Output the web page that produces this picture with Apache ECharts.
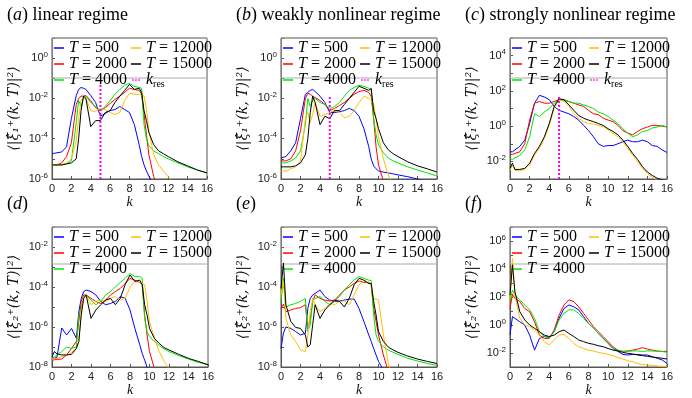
<!DOCTYPE html>
<html>
<head>
<meta charset="utf-8">
<script src="https://cdn.jsdelivr.net/npm/echarts@6/dist/echarts.min.js"></script>
<style>
html, body { margin: 0; background: #fff; }
#chart { width: 692px; height: 398px; }
</style>
</head>
<body>
<div id="chart"></div>
<script>
// wavenumber grids
const kFine = [0,0.25,0.5,1,1.5,2,2.5,2.75,3,3.25,3.5,4,4.5,5,5.5,6,6.5,7,7.5,8,8.5,9,9.25,9.5,9.75,10,10.5,11,11.5,12,13,14,15,16]
const kWide = [0,0.25,0.5,1,1.5,2,2.5,3,3.5,4,4.5,5,5.5,6,6.5,7,7.5,8,8.5,9,9.5,10,10.5,11,11.5,12,12.5,13,13.5,14,14.5,15,15.5,16]
const tLabels = ['T = 500', 'T = 2000', 'T = 4000', 'T = 12000', 'T = 15000']
const kRes = 5

// (a) linear regime
const a500 = [1.8e-5,1.9e-5,2.0e-5,2.2e-5,4.0e-5,1.0e-3,1.4e-2,2.8e-2,3.5e-2,3.2e-2,2.8e-2,1.4e-2,6.3e-3,1.3e-3,1.8e-3,2.5e-3,2.8e-3,4.0e-3,2.8e-3,2.0e-3,5.0e-4,5.0e-5,1.3e-5,5.0e-6,2.5e-6,1.4e-6,5e-7,1.6e-7,1e-7,5e-8,1.6e-8,5e-9,1.6e-9,5e-10]
const a2000 = [5.0e-6,5.0e-6,5.0e-6,6.3e-6,1.3e-5,6.3e-5,5.0e-3,1.0e-2,1.3e-2,1.3e-2,1.4e-2,7.9e-3,3.5e-3,2.5e-3,3.5e-3,5.6e-3,8.9e-3,1.3e-2,2.0e-2,3.2e-2,2.8e-2,2.5e-2,1.6e-2,1.6e-3,1.6e-4,1.6e-5,1.3e-6,3.2e-7,1e-7,3.2e-8,1e-8,3.2e-9,1e-9,3.2e-10]
const a4000 = [5.0e-6,5.0e-6,5.0e-6,5.0e-6,5.6e-6,7.9e-6,6.3e-4,7.9e-3,4.0e-3,1.1e-2,1.3e-2,6.3e-3,4.0e-3,2.5e-3,4.0e-3,7.9e-3,1.6e-2,2.8e-2,4.5e-2,5.6e-2,4.0e-2,3.5e-2,3.2e-2,5.0e-4,1.0e-4,4.5e-5,2.5e-5,1.8e-5,1.3e-5,1.0e-5,6.3e-6,4.0e-6,2.8e-6,2.0e-6]
const a12000 = [5.0e-6,5.0e-6,5.0e-6,5.0e-6,6.3e-6,1.0e-5,7.9e-5,1.0e-3,7.9e-3,1.1e-2,1.0e-2,2.5e-3,2.2e-3,3.2e-3,2.8e-3,2.0e-3,1.6e-3,2.0e-3,7.9e-3,1.8e-2,1.6e-2,1.6e-2,1.4e-2,1.3e-2,3.2e-3,2.5e-4,1.6e-5,5.0e-6,2.5e-6,1.3e-6,3.2e-7,1e-7,3.2e-8,1e-8]
const a15000 = [5.0e-6,5.0e-6,5.0e-6,5.0e-6,5.6e-6,6.3e-6,1.0e-5,1.0e-4,2.5e-3,1.3e-2,1.0e-2,4.0e-4,7.9e-4,7.9e-4,2.0e-3,2.5e-3,6.3e-3,1.3e-2,2.5e-2,5.0e-2,2.8e-2,3.2e-2,2.0e-2,2.5e-3,7.9e-4,2.0e-4,5.0e-5,2.5e-5,1.8e-5,1.3e-5,7.1e-6,4.5e-6,2.8e-6,2.0e-6]

// (b) weakly nonlinear regime
const b500 = [1.1e-5,1.2e-5,1.3e-5,2.5e-5,6.3e-5,1.0e-3,1.6e-2,2.0e-2,2.5e-2,2.8e-2,2.2e-2,1.3e-2,6.3e-3,2.0e-3,2.0e-3,2.2e-3,2.5e-3,3.2e-3,2.5e-3,1.3e-3,3.2e-4,4.0e-5,1.0e-5,4.5e-6,3.2e-6,2.5e-6,2.2e-6,2.0e-6,1.8e-6,1.6e-6,1.3e-6,1.0e-6,7.9e-7,6.3e-7]
const b2000 = [7.9e-6,7.9e-6,7.9e-6,1.0e-5,2.5e-5,2.5e-4,1.0e-2,1.8e-2,1.6e-2,1.3e-2,1.1e-2,7.9e-3,5.0e-3,2.5e-3,3.2e-3,4.5e-3,6.3e-3,1.0e-2,1.6e-2,2.2e-2,2.5e-2,2.0e-2,1.3e-2,1.0e-3,4.0e-5,5.0e-6,7.9e-7,2.5e-7,1e-7,3.2e-8,1e-8,3.2e-9,1e-9,3.2e-10]
const b4000 = [6.3e-6,6.3e-6,6.3e-6,7.9e-6,1.1e-5,2.5e-5,5.0e-4,1.0e-2,4.0e-3,7.9e-3,1.0e-2,6.3e-3,5.0e-3,3.2e-3,4.0e-3,6.3e-3,1.3e-2,2.5e-2,3.5e-2,4.5e-2,4.0e-2,3.2e-2,2.5e-2,1.0e-3,1.6e-4,5.0e-5,2.0e-5,1.1e-5,7.9e-6,6.3e-6,4.0e-6,2.8e-6,2.0e-6,1.4e-6]
const b12000 = [2.5e-6,2.5e-6,2.5e-6,3.2e-6,4.0e-6,7.9e-6,1.0e-3,2.0e-3,6.3e-4,1.6e-3,6.3e-3,1.3e-3,1.6e-3,2.0e-3,2.5e-3,2.0e-3,1.1e-3,1.3e-3,2.5e-3,6.3e-3,1.3e-2,1.0e-2,7.9e-3,5.0e-3,1.0e-3,1.3e-4,1.0e-5,1.6e-6,5.0e-7,1e-7,3.2e-8,1e-8,3.2e-9,1e-9]
const b15000 = [4.0e-6,4.0e-6,4.0e-6,4.0e-6,4.5e-6,6.3e-6,1.6e-5,1.0e-4,2.0e-3,1.3e-2,6.3e-3,5.0e-4,1.3e-3,1.0e-3,2.5e-3,2.5e-3,5.0e-3,1.0e-2,2.0e-2,4.0e-2,3.2e-2,2.5e-2,3.2e-2,2.5e-3,1.0e-3,3.2e-4,6.3e-5,2.8e-5,1.8e-5,1.3e-5,7.1e-6,4.5e-6,3.2e-6,2.2e-6]

// (c) strongly nonlinear regime
const c500 = [3.5e-2,3.5e-2,4.5e-2,7.1e-2,0.16,1.4,20,56,45,32,13,7.9,6.3,5.0,3.5,2.2,1.1,0.56,0.25,0.1,7.1e-2,7.9e-2,7.9e-2,0.1,0.13,0.16,0.13,0.13,0.16,0.13,7.9e-2,7.1e-2,4.5e-2,3.2e-2]
const c2000 = [2.5e-2,2.5e-2,2.8e-2,3.5e-2,0.1,2.2,20,25,20,20,25,32,32,25,20,16,13,7.9,5.0,4.5,2.8,2.2,1.8,1.1,0.56,0.4,0.32,0.5,0.71,0.89,1.1,1.1,1.0,0.89]
const c4000 = [1.4e-2,1.3e-2,1.6e-2,2.2e-2,4.5e-2,0.25,5.0,3.5,6.3,10,20,32,28,25,20,20,16,13,10,6.3,5.0,3.5,2.2,1.4,0.71,0.4,0.25,0.32,0.5,0.56,0.79,0.89,1.1,0.89]
const c12000 = [3.2e-3,6.2e-3,3.0e-3,3.0e-3,3.5e-3,6.2e-3,2.3e-2,5.5e-2,0.2,1.1,10,33,25,13,5.2,2.8,1.8,1.4,1.3,1.1,0.93,0.6,0.39,0.25,0.13,5.5e-2,2.3e-2,9.5e-3,4.0e-3,2.1e-3,1.3e-3,8.7e-4,7.1e-4,5.6e-4]
const c15000 = [4.0e-3,7.9e-3,3.5e-3,3.5e-3,4.0e-3,7.9e-3,2.8e-2,7.1e-2,0.25,1.4,13,35,32,16,7.9,4.0,2.8,2.2,1.8,1.4,1.1,0.71,0.5,0.32,0.16,7.1e-2,2.8e-2,1.3e-2,5.0e-3,2.5e-3,1.6e-3,1.1e-3,8.9e-4,7.1e-4]

// (d)
const d500 = [2.7e-8,2.8e-8,3.0e-8,8.9e-7,4.0e-7,8.5e-7,2.7e-7,5.9e-6,2.7e-5,5.9e-5,7.1e-5,5.9e-5,4.0e-5,1.9e-5,1.3e-5,1.5e-5,1.9e-5,3.3e-5,2.7e-5,7.1e-6,8.5e-7,1.3e-7,4.8e-8,2.2e-8,1.0e-8,5e-9,1e-9,3e-10,1e-10,1e-10,1e-10,1e-10,1e-10,1e-10]
const d2000 = [2.2e-8,2.3e-8,2.4e-8,2.5e-8,4.0e-8,8.5e-8,1.9e-7,1.9e-6,1.9e-5,4.0e-5,4.0e-5,2.7e-5,1.9e-5,1.5e-5,2.2e-5,4.0e-5,5.9e-5,8.5e-5,1.5e-4,2.7e-4,2.2e-4,1.7e-4,1.3e-4,4.0e-6,4.0e-7,5.9e-8,8.5e-9,1e-9,3e-10,1e-10,1e-10,1e-10,1e-10,1e-10]
const d4000 = [2.5e-8,3.2e-8,4.0e-8,5.9e-8,1.0e-7,8.5e-8,1.0e-7,4.0e-6,8.5e-6,3.3e-5,4.0e-5,2.2e-5,1.3e-5,1.9e-5,4.0e-5,5.9e-5,1.0e-4,1.7e-4,2.7e-4,4.8e-4,3.3e-4,3.3e-4,2.7e-4,2.7e-6,5.9e-7,3.3e-7,1.9e-7,1.2e-7,7.9e-8,5.9e-8,3.7e-8,2.5e-8,1.7e-8,1.3e-8]
const d12000 = [2.5e-8,2.6e-8,2.7e-8,3.3e-8,4.0e-8,5.4e-8,8.5e-8,1.9e-7,5.9e-6,3.3e-5,4.0e-5,1.3e-5,1.9e-5,2.2e-5,1.9e-5,2.7e-5,3.3e-5,2.2e-5,2.7e-5,1.0e-4,1.9e-4,1.7e-4,1.5e-4,1.3e-4,1.9e-5,1.9e-6,2.7e-7,5.9e-8,1.9e-8,8.5e-9,1e-9,1e-10,1e-10,1e-10]
const d15000 = [3.3e-8,5.9e-8,4.5e-8,4.0e-8,4.0e-8,4.3e-8,8.5e-8,1.9e-7,4.0e-6,2.7e-5,4.0e-5,2.7e-6,7.1e-6,1.3e-5,2.2e-5,2.7e-5,1.3e-5,2.7e-5,1.3e-4,4.0e-4,1.9e-4,2.2e-4,1.3e-4,1.3e-5,4.0e-6,8.5e-7,2.7e-7,1.5e-7,9.3e-8,7.1e-8,4.3e-8,2.7e-8,1.9e-8,1.3e-8]

// (e)
const e500 = [8.5e-8,5.0e-7,1.0e-6,8.5e-7,5.9e-7,4.0e-7,4.8e-7,8.5e-6,2.7e-5,4.0e-5,4.8e-5,7.1e-5,3.3e-5,2.2e-5,1.9e-5,2.0e-5,2.2e-5,2.5e-5,2.5e-5,8.5e-6,1.9e-6,4.0e-7,1.9e-7,8.5e-8,4.0e-8,1.9e-8,7.1e-9,1e-9,1e-10,1e-10,1e-10,1e-10,1e-10,1e-10]
const e2000 = [8.5e-6,1.4e-5,5.9e-6,7.1e-6,8.5e-6,9.3e-6,1.3e-5,8.5e-7,2.7e-6,1.9e-5,4.0e-5,2.7e-5,2.2e-5,2.0e-5,2.2e-5,4.0e-5,7.1e-5,1.0e-4,1.5e-4,2.0e-4,1.7e-4,1.7e-4,1.3e-4,8.5e-6,1.9e-6,4.0e-7,4.0e-8,5.9e-9,1e-9,1e-10,1e-10,1e-10,1e-10,1e-10]
const e4000 = [1.9e-5,2.7e-4,1.0e-5,1.3e-5,1.5e-5,1.9e-5,2.7e-5,5.9e-7,1.3e-6,1.9e-5,2.7e-5,3.3e-5,1.9e-5,1.3e-5,1.9e-5,3.3e-5,7.1e-5,1.3e-4,2.2e-4,3.3e-4,2.7e-4,2.2e-4,2.1e-4,4.0e-6,4.0e-7,1.9e-7,1.0e-7,7.1e-8,5.4e-8,4.3e-8,2.7e-8,2.0e-8,1.5e-8,1.2e-8]
const e12000 = [4.0e-5,1.9e-4,2.7e-6,4.0e-7,1.9e-7,7.1e-8,5.9e-8,4.0e-7,5.9e-6,2.7e-5,1.3e-5,5.9e-6,8.5e-6,1.5e-5,1.3e-5,1.9e-5,2.0e-5,1.3e-5,4.0e-5,1.3e-4,2.0e-4,1.5e-4,1.3e-4,2.5e-5,2.5e-5,2.2e-5,4.0e-7,1.5e-8,3e-9,1e-9,1e-10,1e-10,1e-10,1e-10]
const e15000 = [8.5e-5,1.6e-3,1.3e-5,1.9e-6,9.5e-7,8.5e-7,4.0e-7,1.0e-7,1.3e-7,1.3e-6,1.3e-5,2.7e-6,7.1e-6,1.3e-5,2.2e-5,1.9e-5,1.0e-5,2.7e-5,1.3e-4,2.7e-4,2.2e-4,1.5e-4,1.5e-4,1.9e-5,4.0e-6,5.9e-7,1.9e-7,1.0e-7,7.1e-8,5.4e-8,3.5e-8,2.5e-8,1.9e-8,1.5e-8]

// (f)
const f500 = [0.2,4.0,3.0,1.7,1.0,0.19,1.6e-2,0.11,0.15,0.13,0.33,3.0,15,27,20,12,4.0,1.3,0.58,0.25,0.11,4.9e-2,2.1e-2,1.3e-2,7.9e-3,7.2e-3,7.9e-3,7.9e-3,7.2e-3,7.2e-3,5.5e-3,4.2e-3,3.2e-3,1.8e-3]
const f2000 = [15,155,79,47,15,8.9,1.7,0.19,0.11,0.11,0.44,5.1,27,62,47,20,6.8,2.3,0.76,0.33,0.15,6.5e-2,2.8e-2,1.6e-2,1.3e-2,1.4e-2,1.6e-2,1.9e-2,2.4e-2,1.9e-2,1.6e-2,1.4e-2,1.3e-2,1.3e-2]
const f4000 = [47,316,138,62,27,12,3.0,0.33,0.15,0.13,0.33,2.3,6.8,12,12,6.8,3.0,1.3,0.58,0.25,0.11,4.9e-2,2.1e-2,1.6e-2,1.3e-2,1.3e-2,1.4e-2,1.4e-2,1.3e-2,1.4e-2,1.4e-2,1.3e-2,1.3e-2,1.1e-2]
const f12000 = [79,6.0e4,138,3.0,1.0,0.76,0.44,0.19,6.5e-2,3.7e-2,8.5e-2,0.19,0.21,0.11,4.9e-2,2.8e-2,2.1e-2,1.6e-2,1.4e-2,1.1e-2,9.5e-3,7.9e-3,6.3e-3,4.7e-3,3.7e-3,2.8e-3,2.4e-3,1.8e-3,1.5e-3,1.4e-3,1.3e-3,1.2e-3,1.1e-3,1.0e-3]
const f15000 = [138,2.0e4,240,8.9,2.3,1.0,0.58,0.33,0.19,0.15,0.19,0.33,0.44,0.25,0.15,8.5e-2,6.5e-2,4.9e-2,4.2e-2,3.3e-2,2.8e-2,2.1e-2,1.6e-2,1.4e-2,1.1e-2,9.5e-3,8.5e-3,7.2e-3,6.5e-3,5.8e-3,5.1e-3,4.7e-3,4.2e-3,3.7e-3]

// top of the k_res marker in each upper panel
const kresTops = [5e-2, 1.2e-2, 50]

const colors = ['#0000ff', '#ff0000', '#00e600', '#ffbf00', '#000000']
const axisColor = '#555'
const serif = 'Liberation Serif'
const dotIcon = 'path://M0,0h2v2h-2zM4,0h2v2h-2zM8,0h2v2h-2z'

const panels = [
  { left: 52, top: 38, width: 155, height: 141, k: kFine, ys: [a500, a2000, a4000, a12000, a15000], min: 1e-6, max: 1e1, sub: '₁', title: '({i|a}) linear regime', kres: kresTops[0] },
  { left: 281, top: 38, width: 156, height: 141, k: kFine, ys: [b500, b2000, b4000, b12000, b15000], min: 1e-6, max: 1e1, sub: '₁', title: '({i|b}) weakly nonlinear regime', kres: kresTops[1] },
  { left: 510, top: 38, width: 157, height: 141, k: kWide, ys: [c500, c2000, c4000, c12000, c15000], min: 1e-3, max: 1e5, sub: '₁', title: '({i|c}) strongly nonlinear regime', kres: kresTops[2] },
  { left: 52, top: 227, width: 156, height: 140, k: kFine, ys: [d500, d2000, d4000, d12000, d15000], min: 1e-8, max: 1e-1, sub: '₂', title: '({i|d})' },
  { left: 281, top: 227, width: 156, height: 140, k: kFine, ys: [e500, e2000, e4000, e12000, e15000], min: 1e-8, max: 1e-1, sub: '₂', title: '({i|e})' },
  { left: 510, top: 227, width: 157, height: 140, k: kWide, ys: [f500, f2000, f4000, f12000, f15000], min: 1e-3, max: 1e7, sub: '₂', title: '({i|f})' },
]

function yTick(v) {
  const l = Math.log10(v)
  const e = Math.round(l)
  if (Math.abs(l - e) > 1e-6 || e % 2 !== 0) return ''
  return '10{s|' + e + '}'
}

function legendName(name) {
  if (name === 'k_res') return '{i|k}{r|res}'
  return name.replace('T', '{i|T}')
}

function legendItem(name) {
  return name === 'k_res' ? { name, icon: dotIcon } : { name, icon: 'rect' }
}

const legendText = {
  fontFamily: serif, fontSize: 16, color: '#000', lineHeight: 12.5,
  rich: {
    i: { fontFamily: serif, fontStyle: 'italic', fontSize: 16, lineHeight: 12.5 },
    r: { fontFamily: serif, fontSize: 10, padding: [9, 0, 0, 0] },
  },
}

const grid = [], xAxis = [], yAxis = [], series = [], legend = [], title = [], graphic = []

panels.forEach((p, i) => {
  grid.push({ left: p.left, top: p.top, width: p.width, height: p.height, show: true, borderColor: axisColor, borderWidth: 1, outerBoundsMode: 'none' })
  xAxis.push({
    type: 'value', gridIndex: i, min: 0, max: 16, interval: 2,
    name: 'k', nameLocation: 'middle', nameGap: 7,
    nameTextStyle: { fontFamily: serif, fontStyle: 'italic', fontSize: 14, color: '#111' },
    axisLine: { lineStyle: { color: axisColor } },
    axisTick: { inside: true, length: 3, lineStyle: { color: axisColor } },
    axisLabel: { fontFamily: 'Liberation Sans', fontSize: 11, color: '#222', margin: 4 },
    splitLine: { show: false },
  })
  yAxis.push({
    type: 'log', logBase: 10, gridIndex: i, min: p.min, max: p.max, interval: 1,
    name: '⟨|ξ̂' + p.sub + '⁺(k, T)|²⟩', nameLocation: 'middle', nameRotate: 90, nameGap: 31,
    nameTextStyle: { fontFamily: 'DejaVu Serif', fontStyle: 'italic', fontSize: 14, color: '#111' },
    axisLine: { lineStyle: { color: axisColor } },
    axisTick: { inside: true, length: 3, lineStyle: { color: axisColor } },
    axisLabel: {
      formatter: yTick, fontFamily: 'Liberation Sans', fontSize: 11, color: '#222', margin: 4,
      rich: { s: { fontFamily: 'Liberation Sans', fontSize: 8, color: '#222', padding: [0, 0, 7, 0] } },
    },
    splitLine: { show: false },
  })
  p.ys.forEach((ys, j) => {
    series.push({
      name: tLabels[j], type: 'line', xAxisIndex: i, yAxisIndex: i,
      data: p.k.map((k, n) => [k, ys[n]]),
      symbol: 'none', clip: true, z: 2 + j,
      lineStyle: { color: colors[j], width: 1 },
      itemStyle: { color: colors[j] },
    })
  })
  if (p.kres) {
    series.push({
      name: 'k_res', type: 'line', xAxisIndex: i, yAxisIndex: i,
      data: [[kRes, p.min], [kRes, p.kres]],
      symbol: 'none', z: 10,
      lineStyle: { color: '#ff00ff', width: 2, type: [2, 2] },
      itemStyle: { color: '#ff00ff' },
    })
  }
  legend.push({
    data: tLabels.slice(0, 3).map(legendItem), left: p.left + 2, top: p.top + 1, orient: 'vertical',
    itemGap: 0, itemWidth: 10, itemHeight: 1.5, padding: [1, 0], selectedMode: false,
    formatter: legendName, textStyle: legendText,
  })
  legend.push({
    data: (p.kres ? [tLabels[3], tLabels[4], 'k_res'] : [tLabels[3], tLabels[4]]).map(legendItem),
    left: p.left + 79, top: p.top + 1, orient: 'vertical',
    itemGap: 0, itemWidth: 10, itemHeight: 1.5, padding: [1, 0], selectedMode: false,
    formatter: legendName, textStyle: legendText,
  })
  graphic.push({
    type: 'rect', silent: true, z: 1,
    shape: { x: p.left, y: p.top, width: p.width, height: p.kres ? 40 : 37 },
    style: { fill: 'none', stroke: '#aaa', lineWidth: 1 },
  })
  title.push({
    text: p.title, left: p.left - 45, top: p.top - 32, padding: 0,
    textStyle: {
      fontFamily: serif, fontSize: 18, fontWeight: 'normal', color: '#000',
      rich: { i: { fontFamily: serif, fontStyle: 'italic', fontSize: 18 } },
    },
  })
})

const chart = echarts.init(document.getElementById('chart'))
chart.setOption({
  animation: false,
  backgroundColor: '#fff',
  title, grid, xAxis, yAxis, legend, series, graphic,
})
</script>
</body>
</html>
